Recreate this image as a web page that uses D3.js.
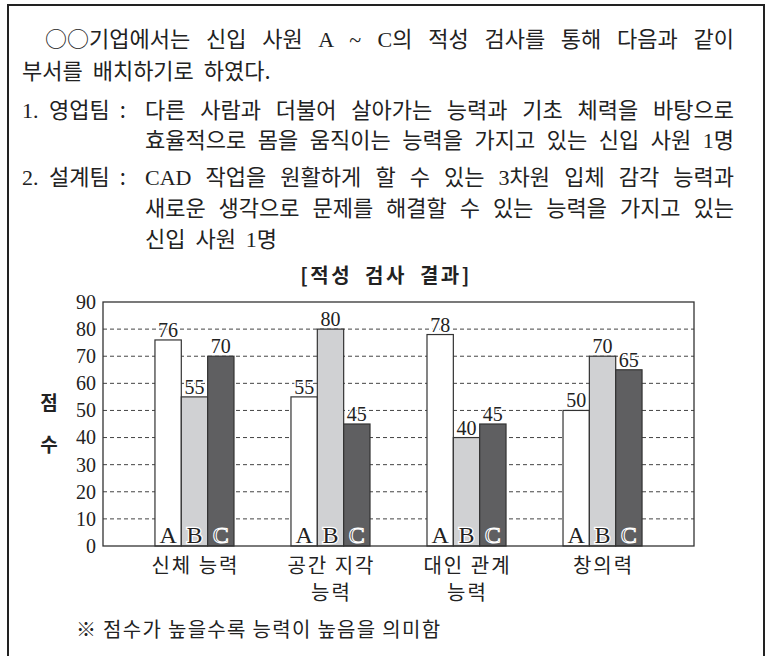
<!DOCTYPE html>
<html>
<head>
<meta charset="utf-8">
<script src="https://cdn.jsdelivr.net/npm/d3@7"></script>
<style>
  body { margin: 0; background: #fff; }
  text { font-family: "Noto Sans CJK KR", sans-serif; }
  text.serif, tspan.serif { font-family: "Liberation Serif", serif; }
</style>
</head>
<body>
<script>
// data
var categories = ["신체 능력", "공간 지각 능력", "대인 관계 능력", "창의력"];
var categoryLines = [["신체 능력"], ["공간 지각", "능력"], ["대인 관계", "능력"], ["창의력"]];
var people = ["A", "B", "C"];
var scoresA = [76, 55, 78, 50];
var scoresB = [55, 80, 40, 70];
var scoresC = [70, 45, 45, 65];
var yTicks = [0, 10, 20, 30, 40, 50, 60, 70, 80, 90];

var W = 773, H = 656;
var svg = d3.select("body").append("svg")
  .attr("width", W)
  .attr("height", H);

// outer frame (open at bottom)
svg.append("rect")
  .attr("x", 8).attr("y", 5)
  .attr("width", 756).attr("height", 700)
  .attr("fill", "none")
  .attr("stroke", "#222")
  .attr("stroke-width", 2);

// body text, justified by widening the word gaps
var fs = 22;
function line(parts, x, y, len) {
  var t = svg.append("text").attr("x", x).attr("y", y)
    .attr("font-size", fs).attr("fill", "#222");
  parts.forEach(function(p) {
    t.append("tspan").attr("class", p[1] ? "serif" : null).text(p[0]);
  });
  var spaces = parts.map(function(p) { return p[0]; }).join("").trim().split(" ").length - 1;
  if (len && spaces > 0) {
    var natural = t.node().getComputedTextLength();
    t.attr("word-spacing", (len - natural) / spaces);
  } else {
    t.attr("word-spacing", 5);
  }
  return t;
}
var right = 734;
line([["○○기업에서는 신입 사원 ", 0], ["A ~ C", 1], ["의 적성 검사를 통해 다음과 같이", 0]], 45, 47, right - 45);
line([["부서를 배치하기로 하였다.", 0]], 22, 79);
line([["1. ", 1], ["영업팀 :", 0]], 22, 118);
line([["다른 사람과 더불어 살아가는 능력과 기초 체력을 바탕으로", 0]], 145, 118, right - 145);
line([["효율적으로 몸을 움직이는 능력을 가지고 있는 신입 사원 ", 0], ["1", 1], ["명", 0]], 145, 148, right - 145);
line([["2. ", 1], ["설계팀 :", 0]], 22, 185);
line([["CAD", 1], [" 작업을 원활하게 할 수 있는 ", 0], ["3", 1], ["차원 입체 감각 능력과", 0]], 145, 185, right - 145);
line([["새로운 생각으로 문제를 해결할 수 있는 능력을 가지고 있는", 0]], 145, 216, right - 145);
line([["신입 사원 ", 0], ["1", 1], ["명", 0]], 145, 247);

// chart title
svg.append("text")
  .attr("x", 386).attr("y", 283)
  .attr("text-anchor", "middle")
  .attr("font-size", 20).attr("font-weight", "bold")
  .attr("letter-spacing", 2.5).attr("word-spacing", 6)
  .attr("fill", "#222")
  .text("[적성 검사 결과]");

// scales
var plot = {left: 103, right: 694, top: 302, bottom: 546};
var x0 = d3.scaleBand().domain(categories)
  .range([plot.left, plot.right])
  .paddingInner(0.419).paddingOuter(0.382);
var x1 = d3.scaleBand().domain(people).range([0, x0.bandwidth()]);
var y = d3.scaleLinear().domain([0, 90]).range([plot.bottom, plot.top]);

// gridlines
svg.append("g").selectAll("line")
  .data(yTicks.filter(function(d) { return d > 0 && d < 90; }))
  .enter().append("line")
  .attr("x1", plot.left).attr("x2", plot.right)
  .attr("y1", function(d) { return y(d); })
  .attr("y2", function(d) { return y(d); })
  .attr("stroke", "#444")
  .attr("stroke-width", 1)
  .attr("stroke-dasharray", "4,3");

// y axis tick labels
var yAxis = d3.axisLeft(y).tickValues(yTicks).tickSize(0).tickPadding(7);
var yg = svg.append("g").attr("transform", "translate(" + plot.left + ",0)").call(yAxis);
yg.attr("font-family", null).attr("font-size", null);
yg.select(".domain").remove();
yg.selectAll("text")
  .attr("class", "serif")
  .style("font-family", "'Liberation Serif', serif")
  .attr("font-size", 20)
  .attr("fill", "#222");

// bars
var colors = {A: "#ffffff", B: "#d0d1d3", C: "#5f5f61"};
var rows = categories.map(function(c, i) {
  return {cat: c, vals: [
    {p: "A", v: scoresA[i]}, {p: "B", v: scoresB[i]}, {p: "C", v: scoresC[i]}
  ]};
});

var groups = svg.append("g").selectAll("g")
  .data(rows).enter().append("g")
  .attr("transform", function(d) { return "translate(" + x0(d.cat) + ",0)"; });

groups.selectAll("rect")
  .data(function(d) { return d.vals; })
  .enter().append("rect")
  .attr("x", function(d) { return x1(d.p); })
  .attr("y", function(d) { return y(d.v); })
  .attr("width", x1.bandwidth())
  .attr("height", function(d) { return y(0) - y(d.v); })
  .attr("fill", function(d) { return colors[d.p]; })
  .attr("stroke", "#333")
  .attr("stroke-width", 1.2);

// value labels
groups.selectAll("text.val")
  .data(function(d) { return d.vals; })
  .enter().append("text")
  .attr("class", "val serif")
  .attr("x", function(d) { return x1(d.p) + x1.bandwidth() / 2; })
  .attr("y", function(d) { return y(d.v) - 3; })
  .attr("text-anchor", "middle")
  .attr("font-size", 20)
  .attr("fill", "#222")
  .attr("stroke", "#fff").attr("stroke-width", 3).attr("paint-order", "stroke")
  .text(function(d) { return d.v; });

// person letters inside bars
groups.selectAll("text.who")
  .data(function(d) { return d.vals; })
  .enter().append("text")
  .attr("class", "who serif")
  .attr("x", function(d) { return x1(d.p) + x1.bandwidth() / 2; })
  .attr("y", y(0) - 3)
  .attr("text-anchor", "middle")
  .attr("font-size", 24)
  .attr("fill", function(d) { return d.p === "C" ? "#4a4a4c" : "#222"; })
  .attr("stroke", function(d) { return d.p === "A" ? "none" : "#fff"; })
  .attr("stroke-width", function(d) { return d.p === "C" ? 1.1 : 2.5; })
  .attr("paint-order", function(d) { return d.p === "B" ? "stroke" : "normal"; })
  .text(function(d) { return d.p; });

// plot frame
svg.append("rect")
  .attr("x", plot.left).attr("y", plot.top)
  .attr("width", plot.right - plot.left)
  .attr("height", plot.bottom - plot.top)
  .attr("fill", "none")
  .attr("stroke", "#333")
  .attr("stroke-width", 1.3);

// category labels
rows.forEach(function(d, i) {
  var cx = x0(d.cat) + x0.bandwidth() / 2;
  var t = svg.append("text")
    .attr("y", 573)
    .attr("text-anchor", "middle")
    .attr("font-size", 20)
    .attr("letter-spacing", 2)
    .attr("fill", "#222");
  categoryLines[i].forEach(function(s, k) {
    t.append("tspan")
      .attr("x", cx + 1)
      .attr("dy", k === 0 ? 0 : 27)
      .text(s);
  });
});

// y axis title
svg.append("text").attr("x", 49).attr("y", 410)
  .attr("text-anchor", "middle").attr("font-size", 19).attr("font-weight", "bold")
  .attr("fill", "#222").text("점");
svg.append("text").attr("x", 49).attr("y", 452)
  .attr("text-anchor", "middle").attr("font-size", 19).attr("font-weight", "bold")
  .attr("fill", "#222").text("수");

// footnote
svg.append("text")
  .attr("x", 76).attr("y", 637)
  .attr("font-size", 20)
  .attr("letter-spacing", 1.3)
  .attr("fill", "#222")
  .text("※ 점수가 높을수록 능력이 높음을 의미함");
</script>
</body>
</html>
